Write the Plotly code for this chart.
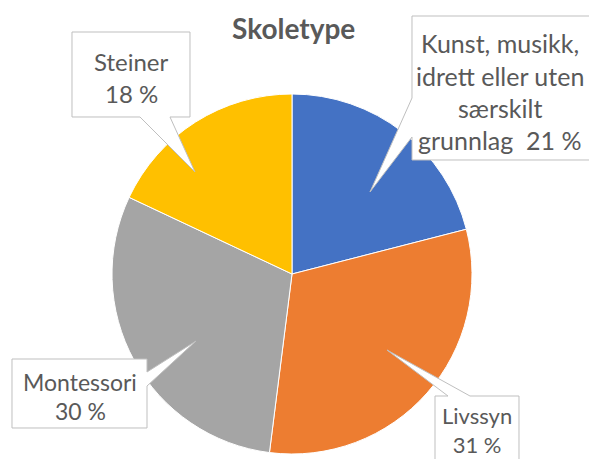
import plotly.graph_objects as go

# ---- data ----
categories = ["Kunst, musikk, idrett eller uten særskilt grunnlag", "Livssyn", "Montessori", "Steiner"]
values = [21, 31, 30, 18]
colors = ["#4472C4", "#ED7D31", "#A5A5A5", "#FFC000"]
label_lines = [
    ["Kunst, musikk,", "idrett eller uten", "særskilt", "grunnlag  21 %"],
    ["Livssyn", "31 %"],
    ["Montessori", "30 %"],
    ["Steiner", "18 %"],
]
title = "Skoletype"

W, H = 589, 459
FONT = "Lato, 'Open Sans', sans-serif"
TXT = "#595959"


def px(x):
    return x / W


def py(y):
    return 1 - y / H


fig = go.Figure()
fig.add_trace(go.Pie(
    labels=categories, values=values, sort=False, direction="clockwise", rotation=0,
    marker=dict(colors=colors, line=dict(color="white", width=1)),
    textinfo="none", hoverinfo="label+percent", showlegend=False,
    domain=dict(x=[px(112), px(472)], y=[py(454), py(94)]),
))

# callout boxes (pixel outlines with pointer), drawn as paper paths
callouts = [
    # blue
    dict(pts=[(412, 16), (592, 16), (592, 160), (412, 160), (412, 137), (370, 192), (412, 98)],
         cx=500, ys=[43, 76, 108, 140], size=25),
    # orange (single text block, lines closer together)
    dict(pts=[(435, 396), (448, 396), (387, 350), (470, 396), (519, 396), (519, 470), (435, 470)],
         cx=477, ys=[430], size=22, block=True),
    # gray
    dict(pts=[(12, 359), (147, 359), (147, 372), (196, 341), (147, 386), (147, 428), (12, 428)],
         cx=80, ys=[382, 411], size=23),
    # yellow
    dict(pts=[(72, 32), (190, 32), (190, 117), (170, 117), (195, 172), (140, 117), (72, 117)],
         cx=131, ys=[61, 94], size=24),
]

shapes = []
annotations = []
for c, lines in zip(callouts, label_lines):
    path = "M " + " L ".join(f"{px(x):.5f},{py(y):.5f}" for x, y in c["pts"]) + " Z"
    shapes.append(dict(type="path", path=path, xref="paper", yref="paper",
                       fillcolor="white", line=dict(color="#BFBFBF", width=1), layer="above"))
    texts = ["<br>".join(lines)] if c.get("block") else lines
    for t, yy in zip(texts, c["ys"]):
        annotations.append(dict(text=t, x=px(c["cx"]), y=py(yy), xref="paper", yref="paper",
                                xanchor="center", yanchor="middle", showarrow=False,
                                font=dict(family=FONT, size=c["size"], color=TXT)))

annotations.append(dict(text="<b>" + title + "</b>", x=px(293), y=py(28), xref="paper", yref="paper",
                        xanchor="center", yanchor="middle", showarrow=False,
                        font=dict(family=FONT, size=28, color=TXT)))

fig.update_layout(
    width=W, height=H, margin=dict(l=0, r=0, t=0, b=0),
    paper_bgcolor="white", plot_bgcolor="white",
    shapes=shapes, annotations=annotations,
)

fig.write_html("out.html", config={"displayModeBar": False},
               post_script="document.body.style.margin='0px';document.body.style.overflow='hidden';")
